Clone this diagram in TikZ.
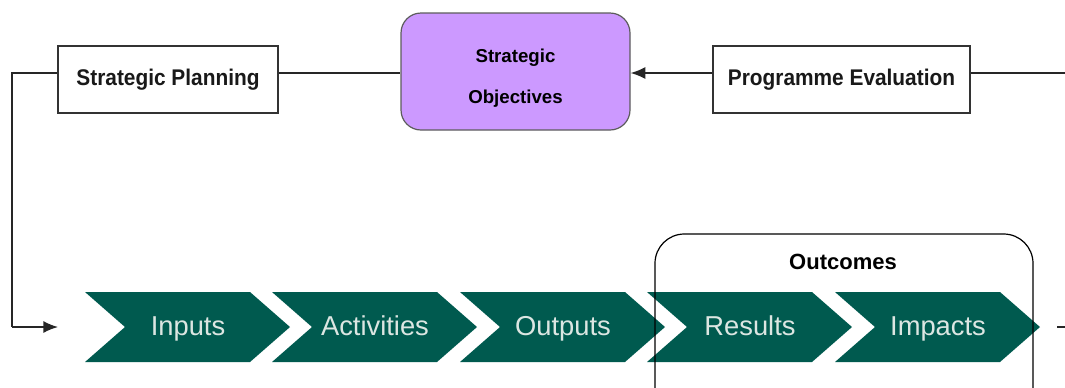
\documentclass[tikz,border=0pt]{standalone}
\usepackage{fontspec}
\setmainfont{Liberation Sans}
\newfontfamily\boxfont[FakeStretch=0.92]{Liberation Sans}
\usetikzlibrary{arrows.meta}
\definecolor{teal}{HTML}{005A4F}
\definecolor{lavender}{HTML}{CC99FF}
\definecolor{chevtext}{HTML}{DCE6E2}
\definecolor{edge}{HTML}{333333}
\tikzset{
  plainbox/.style={draw=edge, line width=1.6pt, fill=white, inner sep=0pt,
    font=\boxfont\bfseries\fontsize{17}{20}\selectfont, text=black!90},
  objbox/.style={draw=edge!80, line width=0.9pt, fill=lavender, rounded corners=15pt,
    inner sep=0pt},
  objtext/.style={align=center, inner sep=0pt, font=\bfseries\fontsize{14}{31}\selectfont},
  link/.style={draw=black!85, line width=1.1pt},
  chevron/.style={fill=teal, draw=none},
  chevlabel/.style={text=chevtext, font=\fontsize{20.5}{24}\selectfont, inner sep=0pt, anchor=base},
  groupbox/.style={draw=black, line width=0.9pt, rounded corners=22pt},
  tip/.style={-{Latex[length=11pt,width=9pt]}}
}
\begin{document}
\begin{tikzpicture}[x=0.75pt,y=-0.75pt]
\useasboundingbox (0,0) rectangle (1065,387);
\clip (0,0) rectangle (1065,387);

% top row boxes
\node[plainbox, minimum width=165pt, minimum height=50pt] (sp) at (168,79.5) {Strategic Planning};
\node[objbox, minimum width=171.75pt, minimum height=87.75pt] (so) at (515.5,71.5) {};
\node[objtext] (sotext) at (515.5,78) {Strategic\\Objectives};
\node[plainbox, minimum width=192.75pt, minimum height=50pt] (pe) at (841.5,79.5) {Programme Evaluation};

% connectors of top row
\coordinate (leftcorner) at (12,73);
\coordinate (leftbottom) at (12,327);
\coordinate (inarrow) at (58,327);
\coordinate (rightend) at (1065,73);
\draw[link] (sp.west |- leftcorner) -- (leftcorner) -- (leftbottom);
\draw[link, tip] (leftbottom) -- (inarrow);
\draw[link] (sp.east |- leftcorner) -- (so.west |- leftcorner);
\draw[link, tip] (pe.west |- leftcorner) -- (so.east |- leftcorner);
\draw[link] (pe.east |- leftcorner) -- (rightend);

% chevrons
\foreach \x/\name/\lab in {85/inputs/Inputs, 272/activities/Activities, 460/outputs/Outputs, 647/results/Results, 835/impacts/Impacts}{
  \fill[chevron] (\x,292) -- ++(165,0) -- ++(40,35) -- ++(-40,35) -- ++(-165,0) -- ++(40,-35) -- cycle;
  \node[chevlabel] (\name) at (\x+103,335) {\lab};
}

% outcomes grouping
\draw[groupbox] (655,400) -- (655,234) -- (1033,234) -- (1033,400);
\node[font=\bfseries\fontsize{16.5}{20}\selectfont] (outcomes) at (843,262) {Outcomes};

% trailing stub
\coordinate (stubA) at (1057,327);
\coordinate (stubB) at (1065,327);
\draw[link] (stubA) -- (stubB);
\end{tikzpicture}
\end{document}
